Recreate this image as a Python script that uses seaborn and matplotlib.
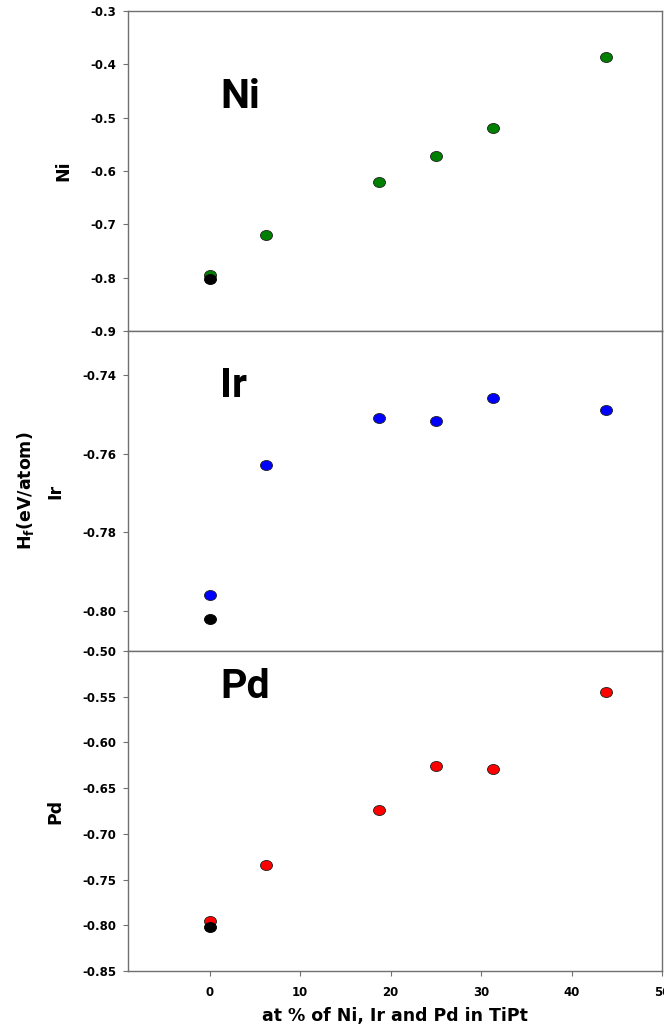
import matplotlib
matplotlib.use("Agg")
import matplotlib.pyplot as plt
from matplotlib.path import Path
from matplotlib.transforms import Affine2D
import seaborn as sns

# ------------------------------------------
# data
# ------------------------------------------
x_pct = [0, 6.25, 18.75, 25, 31.25, 43.75]
hf_ni = [-0.795, -0.720, -0.621, -0.571, -0.520, -0.387]
hf_ir = [-0.7959, -0.7629, -0.7509, -0.7518, -0.7458, -0.7488]
hf_pd = [-0.795, -0.734, -0.674, -0.626, -0.629, -0.545]

# pure TiPt (black point) in each panel
ref_x = [0]
ref_ni = [-0.802]
ref_ir = [-0.802]
ref_pd = [-0.8015]

elements = ["Ni", "Ir", "Pd"]
colors = ["#008000", "#0000ff", "#ff0000"]
ylabels = ["Ni", "$H_f$(eV/atom)\nIr", "Pd"]
yticks = [[-0.9, -0.8, -0.7, -0.6, -0.5, -0.4, -0.3],
          [-0.80, -0.78, -0.76, -0.74],
          [-0.85, -0.80, -0.75, -0.70, -0.65, -0.60, -0.55, -0.50]]
ytick_fmt = ["{:.1f}", "{:.2f}", "{:.2f}"]
ylims = [(-0.9, -0.3), (-0.8102, -0.7288), (-0.85, -0.50)]
# baseline of the big element name in each panel (data units)
name_y = [-0.482, -0.7456, -0.5514]
xticks = [0, 10, 20, 30, 40, 50]

# ------------------------------------------
# style
# ------------------------------------------
sns.set_style("white")
plt.rcParams["font.family"] = ["DejaVu Sans"]
plt.rcParams["font.weight"] = "bold"
plt.rcParams["mathtext.default"] = "bf"
plt.rcParams["text.color"] = "black"
plt.rcParams["axes.labelcolor"] = "black"

SPINE = "#707070"
ellipse = Path.unit_circle().transformed(Affine2D().scale(1.2, 1.0))

fig, axes = plt.subplots(3, 1, figsize=(6.64, 10.27), dpi=100, sharex=True)
fig.subplots_adjust(left=128 / 664, right=662.5 / 664,
                    top=1 - 11 / 1027, bottom=1 - 971 / 1027, hspace=0)

series = [hf_ni, hf_ir, hf_pd]
refs = [ref_ni, ref_ir, ref_pd]

for i, ax in enumerate(axes):
    sns.scatterplot(x=x_pct, y=series[i], ax=ax, marker=ellipse, s=75,
                    color=colors[i], edgecolor="#202020", linewidth=0.6,
                    zorder=3, legend=False)
    sns.scatterplot(x=ref_x, y=refs[i], ax=ax, marker=ellipse, s=75,
                    color="black", edgecolor="black", linewidth=0.6,
                    zorder=4, legend=False)

    ax.set_xlim(-9, 50)
    ax.set_ylim(*ylims[i])
    ax.set_yticks(yticks[i])
    ax.set_yticklabels([ytick_fmt[i].format(v) for v in yticks[i]])

    for sp in ax.spines.values():
        sp.set_color(SPINE)
        sp.set_linewidth(1.0)

    ax.tick_params(axis="y", direction="out", length=3.6, width=0.8,
                   color=SPINE, labelcolor="black", labelsize=8.5, pad=5,
                   left=True)
    ax.tick_params(axis="x", bottom=False, labelbottom=False)

    ax.set_ylabel(ylabels[i], fontsize=12.5, fontweight="bold",
                  labelpad=13, linespacing=1.7)

    ax.text(1.2, name_y[i], elements[i], family="Roboto", fontweight="bold",
            fontsize=29.5, ha="left", va="baseline", color="black")

# only the bottom panel carries the x axis
ax3 = axes[-1]
ax3.set_xticks(xticks)
ax3.tick_params(axis="x", bottom=True, labelbottom=True, direction="out",
                length=3.6, width=0.8, color=SPINE, labelcolor="black",
                labelsize=8.5, pad=7)
ax3.set_xlabel("at % of Ni, Ir and Pd in TiPt", fontsize=12.5,
               fontweight="bold", labelpad=6)

fig.savefig("out.png", dpi=100)
plt.close(fig)
